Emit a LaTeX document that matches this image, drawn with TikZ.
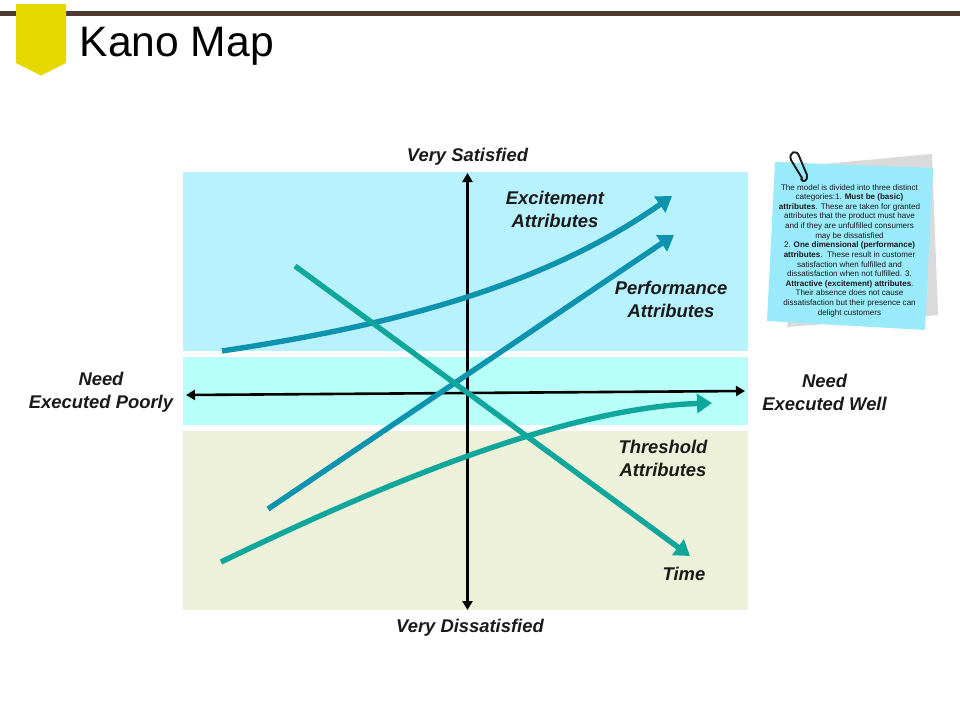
\documentclass[tikz,border=0pt]{standalone}
\usepackage{fontspec}
\setmainfont{Liberation Sans}
\usetikzlibrary{arrows.meta}
\definecolor{barbrown}{HTML}{4F3A32}
\definecolor{tagyellow}{HTML}{E5D900}
\definecolor{bandblue}{HTML}{B9F2FF}
\definecolor{bandcyan}{HTML}{B8FFFA}
\definecolor{bandolive}{HTML}{EEF1D9}
\definecolor{noteblue}{HTML}{99EBFB}
\definecolor{notegray}{HTML}{DADADA}
\definecolor{curveblue}{HTML}{0E93AE}
\definecolor{curveteal}{HTML}{0FA79B}
\definecolor{labelink}{HTML}{1A1A1A}
\tikzset{
  x=1pt,y=-1pt,
  band/.style={fill=#1,draw=none},
  lab/.style={font=\fontsize{18.4}{23}\selectfont\bfseries\itshape,text=labelink,align=center,inner sep=0pt},
  axisline/.style={line width=2.6pt,black,{Triangle[length=9pt,width=10pt]}-{Triangle[length=9pt,width=10pt]}},
  curve/.style={line width=5.4pt,draw=#1,-{Triangle[length=15pt,width=19pt,color=#1]}},
  notetext/.style={font=\fontsize{8.05}{9.62}\selectfont,text=labelink,align=center,inner sep=0pt}
}
\begin{document}
\begin{tikzpicture}
\useasboundingbox (0,0) rectangle (960,720);
\fill[white] (0,0) rectangle (960,720);
% header
\fill[barbrown] (0,11) rectangle (960,15.5);
\fill[tagyellow] (16,4) -- (66,4) -- (66,63) -- (41,75.5) -- (16,63) -- cycle;
\node[anchor=west,inner sep=0pt,font=\fontsize{42.6}{48}\selectfont] (title) at (79.5,46) {Kano Map};
% bands
\fill[band=bandblue] (183,172) rectangle (748,351);
\fill[band=bandcyan] (183,357) rectangle (748,425);
\fill[band=bandolive] (183,431) rectangle (748,610);
% axis ends
\coordinate (vtop) at (467.5,173);
\coordinate (vbot) at (467.5,610);
\coordinate (hleft) at (186,395);
\coordinate (hright) at (745,391);
\draw[axisline] (vbot) -- (vtop);
\draw[axisline] (hleft) -- (hright);
% curves
\coordinate (a1) at (222,351);
\coordinate (a2) at (672,196);
\coordinate (b1) at (268,509);
\coordinate (b2) at (674,235);
\coordinate (c1) at (295,266);
\coordinate (c2) at (690,556);
\coordinate (d1) at (221,562);
\coordinate (d2) at (712,403);
\draw[curve=curveblue] (a1) .. controls (360,330) and (530,296) .. (a2);
\draw[curve=curveblue] (b1) -- (b2);
\draw[curve=curveteal] (c1) -- (c2);
\draw[curve=curveteal] (d1) .. controls (370,490) and (560,408) .. (d2);
% labels
\node[lab] (vs) at (467.5,156.5) {Very Satisfied};
\node[lab] (vd) at (470,627.5) {Very Dissatisfied};
\node[lab] (np) at (101,392.5) {Need\\Executed Poorly};
\node[lab] (nw) at (824.5,392.5) {Need\\Executed Well};
\node[lab] (ex) at (555,209) {Excitement\\Attributes};
\node[lab] (pf) at (671,299) {Performance\\Attributes};
\node[lab] (th) at (663,458) {Threshold\\Attributes};
\node[lab] (tm) at (684,574) {Time};
% note
\fill[notegray] (787,327) -- (812,165) -- (932,154) -- (938,315) -- cycle;
\fill[noteblue] (775,162) -- (933,168) -- (925,330) -- (767,321) -- cycle;
\draw[labelink,line width=1.9pt,line cap=round,line join=round]
  (802,178) -- (791,160) .. controls (788,152) and (797,149) .. (799,156)
  -- (807,175) .. controls (808,181) and (803,183) .. (801,179);
\node[notetext] (note) at (849.5,250.5) {The model is divided into three distinct\\
categories:1. \textbf{Must be (basic)}\\
\textbf{attributes}. These are taken for granted\\
attributes that the product must have\\
and if they are unfulfilled consumers\\
may be dissatisfied\\
2. \textbf{One dimensional (performance)}\\
\textbf{attributes}.\ \ These result in customer\\
satisfaction when fulfilled and\\
dissatisfaction when not fulfilled. 3.\\
\textbf{Attractive (excitement) attributes}.\\
Their absence does not cause\\
dissatisfaction but their presence can\\
delight customers};
\end{tikzpicture}
\end{document}
